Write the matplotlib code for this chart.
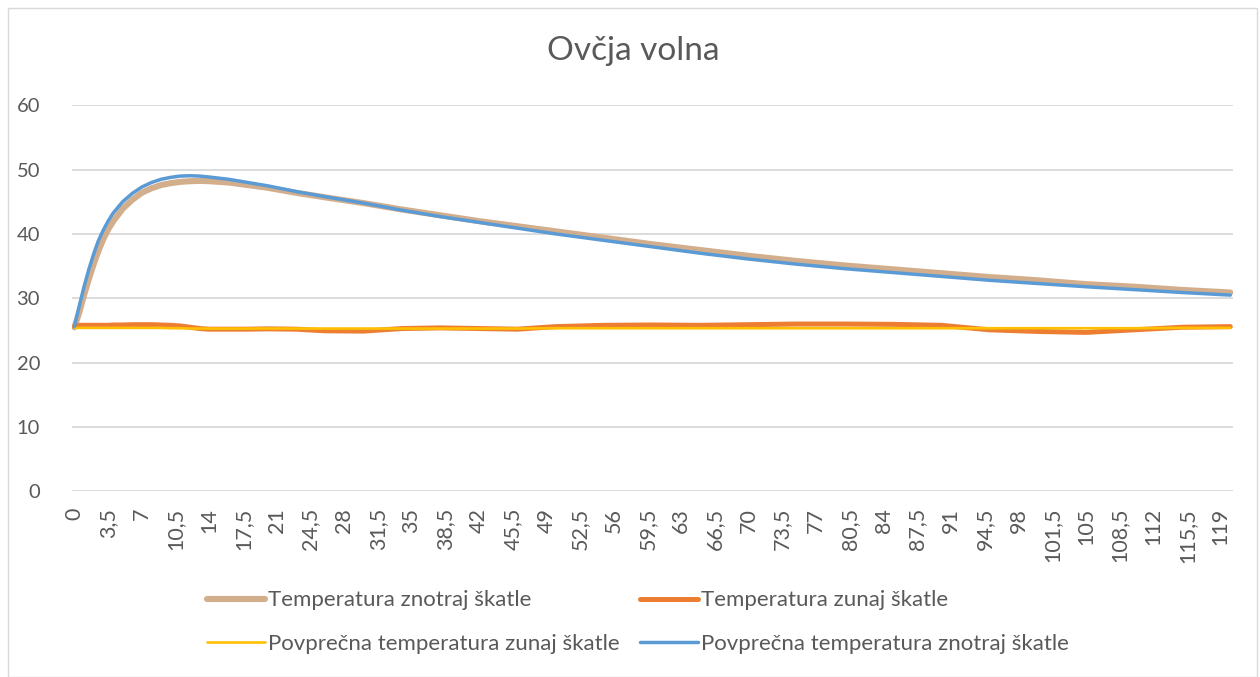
import matplotlib
matplotlib.use("Agg")
import matplotlib.pyplot as plt
from matplotlib.patches import Rectangle

# ---- data ----
time_min = [0, 0.5, 1, 1.5, 2, 2.5, 3, 3.5, 4, 5, 6, 7, 8, 9, 10, 11, 12, 13, 14,
            16, 18, 20, 23, 26, 30, 34, 38, 42, 46, 50, 55, 60, 65, 70, 75, 80,
            85, 90, 95, 100, 105, 110, 115, 120]

temp_inside = [25.5, 27.8, 30.5, 33.0, 35.3, 37.4, 39.2, 40.7, 41.9, 43.9, 45.3,
               46.4, 47.1, 47.6, 47.9, 48.1, 48.2, 48.25, 48.2, 48.0, 47.6, 47.2,
               46.4, 45.7, 44.8, 43.8, 42.9, 42.0, 41.2, 40.4, 39.4, 38.4, 37.5,
               36.6, 35.8, 35.1, 34.5, 33.9, 33.3, 32.8, 32.2, 31.8, 31.3, 30.9]

temp_outside = [25.6, 25.8, 25.8, 25.8, 25.8, 25.8, 25.8, 25.8, 25.85, 25.85, 25.9,
                25.9, 25.9, 25.85, 25.8, 25.7, 25.5, 25.3, 25.2, 25.2, 25.2, 25.25,
                25.2, 24.95, 24.9, 25.3, 25.4, 25.3, 25.2, 25.6, 25.8, 25.85, 25.8,
                25.9, 26.0, 26.0, 25.95, 25.8, 25.1, 24.85, 24.7, 25.1, 25.5, 25.6]

avg_outside = [25.4, 25.4, 25.4, 25.4, 25.4, 25.4, 25.4, 25.4, 25.4, 25.4, 25.4,
               25.4, 25.4, 25.4, 25.35, 25.35, 25.3, 25.3, 25.3, 25.3, 25.3, 25.3,
               25.3, 25.3, 25.3, 25.3, 25.3, 25.3, 25.3, 25.35, 25.35, 25.35, 25.35,
               25.35, 25.35, 25.35, 25.35, 25.35, 25.35, 25.35, 25.35, 25.35, 25.4, 25.4]

avg_inside = [25.6, 28.8, 31.8, 34.5, 36.9, 39.0, 40.6, 42.0, 43.2, 45.0, 46.3,
              47.3, 48.0, 48.5, 48.8, 49.0, 49.05, 49.0, 48.85, 48.5, 48.0, 47.5,
              46.6, 45.8, 44.8, 43.7, 42.7, 41.8, 40.9, 40.0, 39.0, 38.0, 37.0,
              36.1, 35.3, 34.6, 34.0, 33.4, 32.8, 32.3, 31.8, 31.35, 30.9, 30.5]

series_labels = ["Temperatura znotraj škatle", "Temperatura zunaj škatle",
                 "Povprečna temperatura zunaj škatle", "Povprečna temperatura znotraj škatle"]
x_ticks = [i * 3.5 for i in range(35)]
y_ticks = [0, 10, 20, 30, 40, 50, 60]
title = "Ovčja volna"

# ---- styling ----
FONT = "Lato"
TXT = "#595959"
GRID = "#D9D9D9"
W, H = 1260, 677

fig = plt.figure(figsize=(W / 100, H / 100), dpi=100)
fig.patch.set_facecolor("white")

# outer chart border
fig.add_artist(Rectangle((8 / W, 0.0), (1257 - 8) / W, 1 - 8 / H,
                         transform=fig.transFigure, fill=False,
                         edgecolor="#D9D9D9", linewidth=1.0))

ax = fig.add_axes([72 / W, 1 - 491.3 / H, (1232.7 - 72) / W, (491.3 - 105.3) / H])

l1, = ax.plot(time_min, temp_inside, color="#D3AE8D", lw=4.4, solid_capstyle="round", zorder=3)
l2, = ax.plot(time_min, temp_outside, color="#ED7D31", lw=3.6, solid_capstyle="round", zorder=4)
l3, = ax.plot(time_min, avg_outside, color="#FFC000", lw=1.9, solid_capstyle="round", zorder=5)
l4, = ax.plot(time_min, avg_inside, color="#5B9BD5", lw=2.5, solid_capstyle="round", zorder=6)

ax.set_xlim(-0.25, 120.25)
ax.set_ylim(0, 60)
ax.set_yticks(y_ticks)
ax.set_yticklabels([str(v) for v in y_ticks], fontsize=14.5, color=TXT, family=FONT)
ax.set_xticks(x_ticks)
ax.set_xticklabels([("%g" % v).replace(".", ",") for v in x_ticks], rotation=90,
                   fontsize=15.5, color=TXT, family=FONT, va="top", ha="center")
ax.tick_params(axis="both", length=0)
ax.tick_params(axis="y", pad=23)
ax.tick_params(axis="x", pad=12)
ax.grid(axis="y", color=GRID, lw=1.3, zorder=0)
ax.set_axisbelow(True)
for s in ax.spines.values():
    s.set_visible(False)

fig.text(633 / W, 1 - 51 / H, title, ha="center", va="center", fontsize=24,
         color=TXT, family=FONT)

# row-wise legend order as in the reference (matplotlib fills column-wise)
leg = fig.legend([l1, l3, l2, l4],
                 [series_labels[0], series_labels[2], series_labels[1], series_labels[3]],
                 ncol=2, loc="center",
                 bbox_to_anchor=(638 / W, 1 - 622 / H), frameon=False,
                 prop={"family": FONT, "size": 16}, labelcolor=TXT,
                 handlelength=2.6, handletextpad=0.15, columnspacing=0.9,
                 labelspacing=1.05)

fig.savefig("out.png", dpi=100, facecolor="white")
